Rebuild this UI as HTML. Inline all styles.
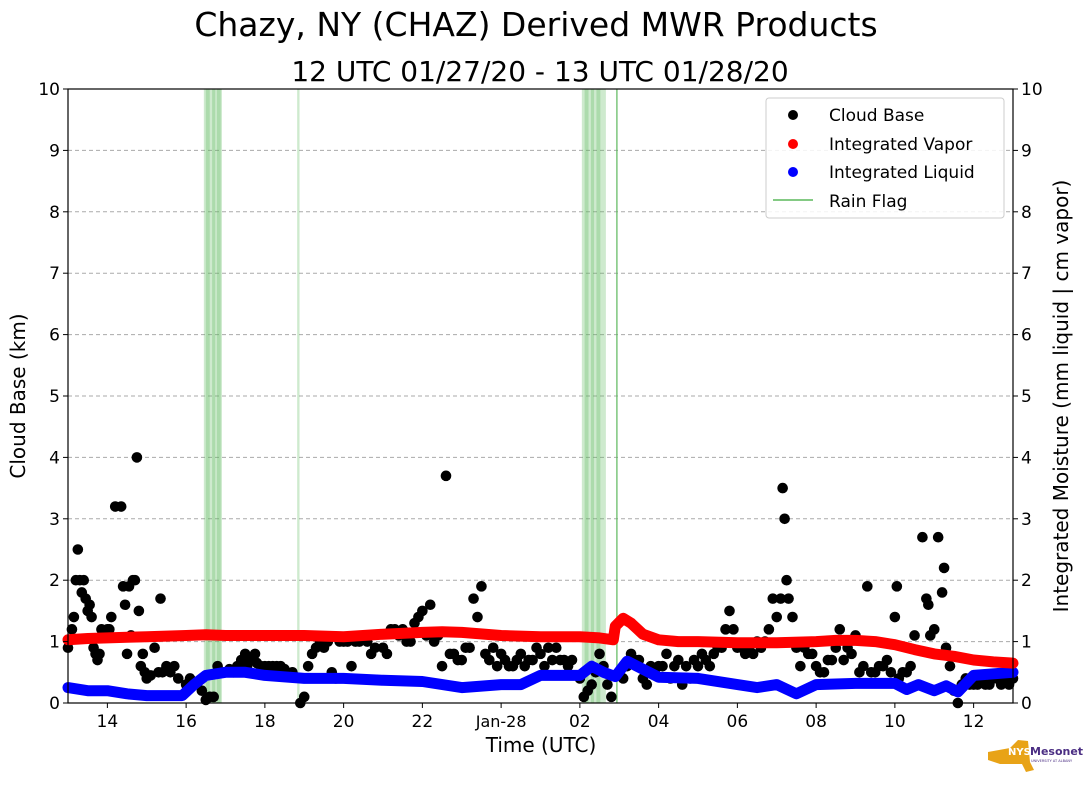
<!DOCTYPE html>
<html><head><meta charset="utf-8"><style>
body{margin:0;background:#fff;}
svg{display:block;font-family:"DejaVu Sans","Liberation Sans",sans-serif;}
</style></head><body>
<svg id="chart" width="1089" height="804" viewBox="0 0 1089 804">
<text x="536" y="36" font-size="33" text-anchor="middle">Chazy, NY (CHAZ) Derived MWR Products</text>
<text x="540" y="81" font-size="28" text-anchor="middle">12 UTC 01/27/20 - 13 UTC 01/28/20</text>
<g id="grid"></g>
<g id="rain"></g>
<g id="cloud"></g>
<g id="lines"></g>
<rect x="68" y="89" width="945" height="614" fill="none" stroke="#000" stroke-width="1.2"/>
<g id="axes"></g>
<text x="541" y="752" font-size="20" text-anchor="middle">Time (UTC)</text>
<text transform="translate(25,396) rotate(-90)" font-size="20" text-anchor="middle">Cloud Base (km)</text>
<text transform="translate(1068,396) rotate(-90)" font-size="20" text-anchor="middle">Integrated Moisture (mm liquid | cm vapor)</text>
<g>
<rect x="766" y="98" width="238" height="120" rx="3" fill="#fff" fill-opacity="0.85" stroke="#ccc"/>
<circle cx="793" cy="115" r="5" fill="#000"/><text x="829" y="121" font-size="17">Cloud Base</text>
<circle cx="793" cy="144" r="5" fill="red"/><text x="829" y="150" font-size="17">Integrated Vapor</text>
<circle cx="793" cy="172" r="5" fill="blue"/><text x="829" y="178" font-size="17">Integrated Liquid</text>
<line x1="773" y1="200" x2="813" y2="200" stroke="#5cb85c" stroke-width="1.5"/><text x="829" y="207" font-size="17">Rain Flag</text>
</g>
<g>
<path d="M988 752 L1010 748 L1018 740 L1028 741 L1030 762 L1034 770 L1026 772 L1022 764 L1000 764 L988 760 Z" fill="#e8a317"/>
<text x="1008" y="755" font-size="10" font-weight="bold" fill="#fff">NYS</text>
<text x="1030" y="755" font-size="11" font-weight="bold" fill="#4b2e83">Mesonet</text>
<text x="1031" y="762" font-size="3.5" fill="#4b2e83">UNIVERSITY AT ALBANY</text>
</g>
</svg>
<script>
const xTickLabels=["14","16","18","20","22","Jan-28","02","04","06","08","10","12"];
const xTickHours=[1,3,5,7,9,11,13,15,17,19,21,23];
const yTicks=[0,1,2,3,4,5,6,7,8,9,10];
const rainBands=[[3.45,3.91],[3.5,3.6],[3.66,3.74],[3.78,3.88],[13.05,13.66],[13.12,13.22],[13.28,13.36],[13.42,13.52],[5.82,5.88]];
const rainLines=[13.94];
const vapT=[0,0.5,1,1.5,2,2.5,3,3.5,4,5,6,7,8,9,9.5,10,11,12,13,13.5,13.85,13.9,14.1,14.3,14.6,15,15.5,16,17,18,19,19.5,20,20.5,21,21.5,22,22.5,23,23.5,24];
const vapV=[1.03,1.05,1.06,1.07,1.08,1.09,1.1,1.11,1.1,1.1,1.1,1.08,1.12,1.15,1.16,1.15,1.1,1.08,1.08,1.06,1.03,1.25,1.38,1.3,1.12,1.03,1.0,1.0,0.98,0.98,1.0,1.02,1.02,1.0,0.95,0.87,0.8,0.76,0.7,0.67,0.65];
const liqT=[0,0.5,1,1.5,2,2.5,2.9,3.2,3.5,4,4.5,5,6,7,8,9,10,11,11.5,12,13,13.3,13.6,13.9,14.2,14.6,15,16,17,17.5,18,18.5,19,20,21,21.3,21.6,22,22.3,22.6,23,24];
const liqV=[0.25,0.2,0.2,0.15,0.12,0.12,0.12,0.3,0.45,0.5,0.5,0.45,0.4,0.4,0.37,0.35,0.25,0.3,0.3,0.45,0.45,0.6,0.5,0.43,0.68,0.55,0.42,0.4,0.3,0.25,0.3,0.15,0.3,0.32,0.32,0.22,0.3,0.2,0.28,0.18,0.45,0.5];
const cbT=[0,0.1,0.15,0.2,0.25,0.3,0.35,0.4,0.45,0.5,0.55,0.6,0.65,0.7,0.75,0.8,0.85,0.9,1.0,1.05,1.1,1.2,1.35,1.4,1.45,1.5,1.55,1.6,1.65,1.7,1.75,1.8,1.85,1.9,1.95,2.0,2.1,2.2,2.3,2.35,2.4,2.5,2.6,2.7,2.8,3.0,3.1,3.2,3.3,3.4,3.5,3.6,3.7,3.8,3.9,4.0,4.1,4.2,4.3,4.4,4.5,4.6,4.7,4.8,4.9,5.0,5.2,5.4,5.5,5.7,5.9,6.0,6.1,6.2,6.3,6.4,6.5,6.6,6.8,6.9,7.0,7.2,7.4,7.6,7.8,8.0,8.1,8.2,8.3,8.5,8.7,8.8,8.9,9.0,9.2,9.3,9.4,9.5,9.6,9.8,10.0,10.1,10.2,10.3,10.4,10.5,10.6,10.8,11.0,11.2,11.4,11.6,11.8,12.0,12.2,12.4,12.6,12.8,13.0,13.1,13.2,13.3,13.4,13.5,13.6,13.7,13.8,14.0,14.1,14.2,14.3,14.4,14.6,14.8,15.0,15.2,15.4,15.6,15.8,16.0,16.2,16.4,16.5,16.7,16.8,16.9,17.0,17.2,17.4,17.6,17.8,17.9,18.0,18.1,18.15,18.2,18.25,18.3,18.4,18.5,18.6,18.8,19.0,19.2,19.4,19.6,19.8,20.0,20.1,20.3,20.5,20.7,20.9,21.0,21.05,21.2,21.5,21.7,21.8,21.85,21.9,22.0,22.1,22.2,22.25,22.3,22.4,22.5,22.6,22.7,23.0,23.3,23.6,24.0,4.55,4.75,5.1,5.3,6.7,7.1,7.3,7.7,8.4,8.6,9.1,9.7,9.9,10.7,10.9,11.1,11.3,11.5,11.7,11.9,12.1,12.3,12.5,12.7,14.5,14.7,14.9,15.1,15.3,15.5,15.7,15.9,16.1,16.3,16.6,17.1,17.3,17.5,17.7,18.7,18.9,19.1,19.3,19.5,19.7,19.9,20.2,20.4,20.6,20.8,21.1,21.3,21.4,22.8,22.9,23.1,23.2,23.4,23.5,23.7,23.8,23.9];
const cbV=[0.9,1.2,1.4,2.0,2.5,2.0,1.8,2.0,1.7,1.5,1.6,1.4,0.9,0.8,0.7,0.8,1.2,1.1,1.2,1.2,1.4,3.2,3.2,1.9,1.6,0.8,1.9,1.1,2.0,2.0,4.0,1.5,0.6,0.8,0.5,0.4,0.45,0.9,0.5,1.7,0.5,0.6,0.5,0.6,0.4,0.3,0.4,0.3,0.35,0.2,0.05,0.1,0.1,0.6,0.5,0.5,0.55,0.5,0.6,0.7,0.8,0.7,0.7,0.65,0.6,0.6,0.6,0.6,0.55,0.5,0.0,0.1,0.6,0.8,0.9,1.0,0.9,1.0,0.4,1.0,1.0,0.6,1.0,1.0,0.9,0.9,0.8,1.2,1.2,1.2,1.0,1.3,1.4,1.5,1.6,1.0,1.1,0.6,3.7,0.8,0.7,0.9,0.9,1.7,1.4,1.9,0.8,0.9,0.8,0.6,0.7,0.6,0.7,0.8,0.9,0.9,0.7,0.7,0.4,0.1,0.2,0.3,0.5,0.8,0.6,0.3,0.1,0.5,0.4,0.6,0.8,0.7,0.4,0.6,0.6,0.8,0.6,0.3,0.4,0.6,0.7,0.8,0.9,1.2,1.5,1.2,0.9,0.8,0.8,0.9,1.2,1.7,1.4,1.7,3.5,3.0,2.0,1.7,1.4,0.9,0.6,0.8,0.6,0.5,0.7,1.2,0.9,1.1,0.5,1.9,0.5,0.6,0.5,1.4,1.9,0.5,1.1,2.7,1.7,1.6,1.1,1.2,2.7,1.8,2.2,0.9,0.6,0.2,0.0,0.3,0.3,0.3,0.4,0.4,0.6,0.8,0.6,0.6,0.5,1.0,1.0,0.8,1.1,1.0,1.1,0.8,0.7,0.7,0.6,0.7,0.6,0.8,0.7,0.9,0.6,0.7,0.7,0.6,0.7,0.3,0.5,0.6,0.4,0.7,0.6,0.7,0.8,0.6,0.9,0.9,0.9,1.0,1.0,0.9,0.8,0.5,0.7,0.9,0.7,0.8,0.6,0.5,0.6,0.7,0.4,0.5,0.6,0.4,0.3,0.3,0.4,0.3,0.4,0.3,0.4,0.3];

const NS="http://www.w3.org/2000/svg";
const X0=68,X1=1013,Y0=703,Y1=89,TMAX=24,VMAX=10;
function xs(t){return X0+(X1-X0)*t/TMAX;}
function ys(v){return Y0-(Y0-Y1)*v/VMAX;}
function mk(tag,attrs,parent){const e=document.createElementNS(NS,tag);for(const k in attrs)e.setAttribute(k,attrs[k]);parent.appendChild(e);return e;}
const grid=document.getElementById('grid'),axes=document.getElementById('axes');
yTicks.forEach(v=>{
  if(v>0&&v<10){const g=mk('line',{x1:X0,x2:X1,y1:ys(v),y2:ys(v),stroke:'#aaa','stroke-dasharray':'4,3','stroke-width':1},grid);
  
  }
  [[X0,-1,'end',X0-8],[X1,1,'start',X1+8]].forEach(([x,d,anc,tx])=>{
    mk('line',{x1:x,x2:x+d*5,y1:ys(v),y2:ys(v),stroke:'#000'},axes);
    const t=mk('text',{x:tx,y:ys(v)+6,'font-size':17,'text-anchor':anc},axes);
    
    
    t.textContent=v;
  });
});
xTickHours.forEach((h,i)=>{
  mk('line',{x1:xs(h),x2:xs(h),y1:Y0,y2:Y0+5,stroke:'#000'},axes);
  const t=mk('text',{x:xs(h),y:Y0+24,'font-size':xTickLabels[i].length>2?16:17,'text-anchor':'middle'},axes);
  
  
  t.textContent=xTickLabels[i];
});
const rain=document.getElementById('rain');
rainBands.forEach(b=>{
  const r=mk('rect',{x:xs(b[0]),y:Y1,width:xs(b[1])-xs(b[0]),height:Y0-Y1,fill:'#5cb85c','fill-opacity':0.3},rain);
  
  
});
rainLines.forEach(t=>{
  const l=mk('line',{x1:xs(t),x2:xs(t),y1:Y1,y2:Y0,stroke:'#5cb85c','stroke-width':1.5,'stroke-opacity':0.8},rain);
  
  
});
const cloud=document.getElementById('cloud');
cbT.forEach((t,i)=>{
  const c=mk('circle',{cx:xs(t),cy:ys(cbV[i]),r:5.3,fill:'#000'},cloud);
  
  
});
const lines=document.getElementById('lines');
function path(T,V,col,name){
  const d=T.map((t,i)=>(i?'L':'M')+xs(t).toFixed(1)+' '+ys(V[i]).toFixed(1)).join(' ');
  const p=mk('path',{d:d,fill:'none',stroke:col,'stroke-width':11,'stroke-linecap':'round','stroke-linejoin':'round'},lines);
  
  
}
path(liqT,liqV,'blue','integrated-liquid-line');
path(vapT,vapV,'red','integrated-vapor-line');
</script>
</body></html>
